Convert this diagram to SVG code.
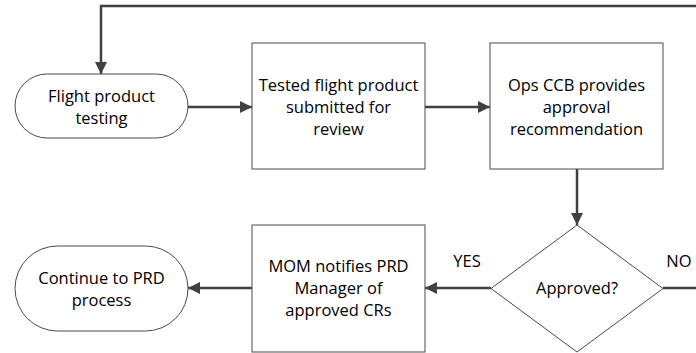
<svg xmlns="http://www.w3.org/2000/svg" width="696" height="353" viewBox="0 0 696 353">
<style>
.s{fill:#fff;stroke:#4a4a4a;stroke-width:1}
.t{font-family:"Open Sans","Liberation Sans",sans-serif;font-size:16.5px;fill:#000;text-anchor:middle}
.c{fill:none;stroke:#404040;stroke-width:2.5}
</style>
<defs>
<marker id="a" viewBox="0 0 12 12" refX="12" refY="6" markerWidth="12" markerHeight="12" markerUnits="userSpaceOnUse" orient="auto">
<path d="M0,0 L12,6 L0,12 z" fill="#404040"/>
</marker>
</defs>
<g id="connectors">
<path class="c" d="M696,6 H101 V74" marker-end="url(#a)"/>
<path class="c" d="M188,107 H252" marker-end="url(#a)"/>
<path class="c" d="M425,107 H490" marker-end="url(#a)"/>
<path class="c" d="M577,169 V225" marker-end="url(#a)"/>
<path class="c" d="M491,288 H425" marker-end="url(#a)"/>
<path class="c" d="M252,288 H188" marker-end="url(#a)"/>
<path class="c" d="M663,288 H696"/>
<text class="t" x="467" y="267">YES</text>
<text class="t" x="679" y="267">NO</text>
</g>
<g id="n1">
<rect class="s" x="15" y="74" width="173" height="64" rx="32"/>
<text class="t" x="101.5" y="102">Flight product</text>
<text class="t" x="101.5" y="124">testing</text>
</g>
<g id="n2">
<rect class="s" x="252" y="43" width="173" height="126"/>
<text class="t" x="338.5" y="91">Tested flight product</text>
<text class="t" x="338.5" y="113">submitted for</text>
<text class="t" x="338.5" y="135">review</text>
</g>
<g id="n3">
<rect class="s" x="490" y="43" width="173" height="126"/>
<text class="t" x="576.5" y="91">Ops CCB provides</text>
<text class="t" x="576.5" y="113">approval</text>
<text class="t" x="576.5" y="135">recommendation</text>
</g>
<g id="n4">
<polygon class="s" points="577,225 663,288.5 577,352 491,288.5"/>
<text class="t" x="577" y="294">Approved?</text>
</g>
<g id="n5">
<rect class="s" x="252" y="225" width="173" height="127"/>
<text class="t" x="338.5" y="272">MOM notifies PRD</text>
<text class="t" x="338.5" y="294">Manager of</text>
<text class="t" x="338.5" y="316">approved CRs</text>
</g>
<g id="n6">
<rect class="s" x="15" y="246" width="173" height="85" rx="42.5"/>
<text class="t" x="101.5" y="284">Continue to PRD</text>
<text class="t" x="101.5" y="306">process</text>
</g>
</svg>
